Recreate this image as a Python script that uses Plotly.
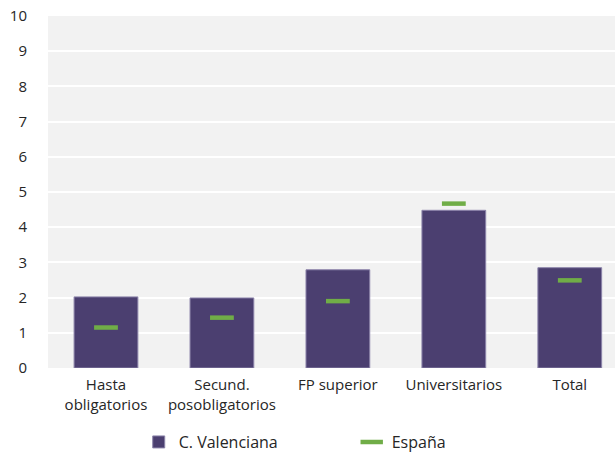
import plotly.graph_objects as go

categorias = ["Hasta<br>obligatorios", "Secund.<br>posobligatorios", "FP superior",
              "Universitarios", "Total"]
valenciana = [2.02, 1.99, 2.79, 4.48, 2.85]
espana = [1.15, 1.43, 1.90, 4.67, 2.49]
y_ticks = list(range(0, 11))

fig = go.Figure()

fig.add_trace(go.Bar(
    x=categorias, y=valenciana, name="C. Valenciana",
    marker=dict(color="#4b3f70", line=dict(color="#8c84aa", width=1)),
    width=0.55,
))

fig.add_trace(go.Scatter(
    x=categorias, y=espana, name="España", mode="markers",
    marker=dict(symbol="line-ew", size=17, color="#70ad47",
                line=dict(color="#70ad47", width=4.5)),
))

fig.update_layout(
    width=615, height=466,
    margin=dict(l=48, r=0, t=16, b=98),
    paper_bgcolor="white",
    plot_bgcolor="#f2f2f2",
    font=dict(family="Open Sans, Noto Sans, sans-serif", color="#262626", size=15),
    showlegend=True,
    legend=dict(orientation="h", x=0.16, xanchor="left", y=-0.162, yanchor="top",
                font=dict(size=16), entrywidth=168, itemwidth=30),
)

fig.update_xaxes(range=[-0.5, 4.39], showgrid=False, zeroline=False,
                 tickfont=dict(size=15), ticks="", ticklabelstandoff=6)
fig.update_yaxes(range=[0, 10], tickvals=y_ticks, showgrid=True, gridcolor="white",
                 gridwidth=1.5, zeroline=False, tickfont=dict(size=15),
                 ticklabelstandoff=20, ticklabeloverflow="allow")

# quitar el margen de 8px del body para que la figura ocupe toda la ventana
fig.write_html("out.html", config={"displayModeBar": False},
               post_script="document.body.style.margin='0';document.body.style.overflow='hidden';")
